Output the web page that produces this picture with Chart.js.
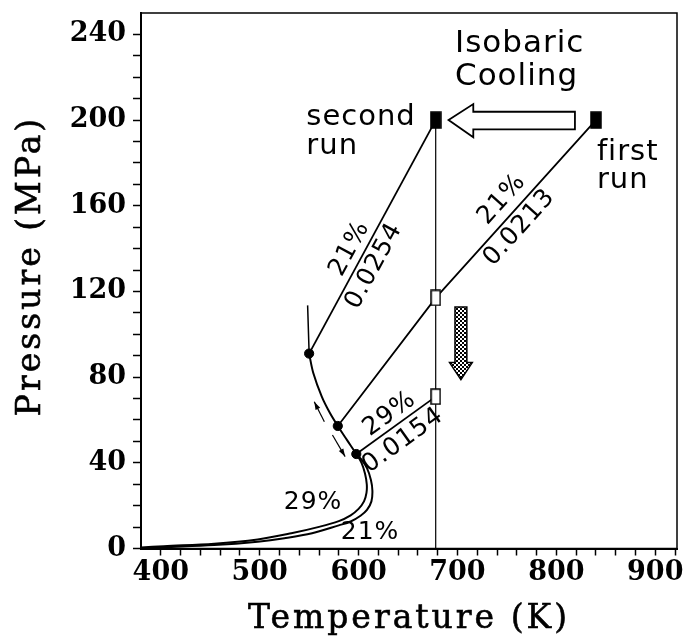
<!DOCTYPE html>
<html lang="en">
<head>
<meta charset="UTF-8">
<title>Isobaric Cooling</title>
<script src="https://cdn.jsdelivr.net/npm/chart.js"></script>
<style>
  body { margin: 0; background: #fff; }
  #grafico { display: block; }
</style>
</head>
<body>
<canvas id="grafico" width="683" height="636"></canvas>
<script>
// eixos
const ticksX = [400, 420, 440, 460, 480, 500, 520, 540, 560, 580, 600, 620, 640, 660, 680, 700, 720, 740, 760, 780, 800, 820, 840, 860, 880, 900, 920];
const rotulosX = [400, 500, 600, 700, 800, 900];
const ticksY = [0, 10, 20, 30, 40, 50, 60, 70, 80, 90, 100, 110, 120, 130, 140, 150, 160, 170, 180, 190, 200, 210, 220, 230, 240];
const rotulosY = [0, 40, 80, 120, 160, 200, 240];

// curva de equilibrio: trecho comum + ramo 29%
const curva29T = [550, 554.3, 562.8, 571.2, 579, 588.2, 597.7, 603, 606.5, 608.3, 608, 605.5, 600, 592, 580, 560, 532, 498, 454, 403, 380];
const curva29P = [91, 81.8, 70.9, 63.1, 57.2, 50.7, 44.1, 40, 35, 30, 26, 22, 18.5, 15.5, 12.8, 10.1, 7.1, 4.2, 2.2, 1.1, 0.5];
// ramo 21%
const curva21T = [597.7, 603, 608.5, 612.5, 614, 613, 608.5, 602, 592, 580, 553, 525, 498, 454, 403, 380];
const curva21P = [44.1, 41.5, 37.5, 32, 27, 22, 18, 15.3, 12.6, 10.8, 7.1, 4.8, 3.2, 1.6, 0.6, 0.1];

// corridas
const segundaT = [550, 678];
const segundaP = [91, 200];
const primeiraT = [579, 678, 840];
const primeiraP = [57.2, 117, 200];
const linha29T = [597.7, 678];
const linha29P = [44.1, 70.9];
const isotermaT = [678, 678];
const isotermaP = [0, 200];
const marcaT = [548.5, 550];
const marcaP = [113.5, 91];

// marcadores
const circulosT = [550, 579, 597.7];
const circulosP = [91, 57.2, 44.1];
const cheiosT = [678, 840];
const cheiosP = [200, 200];
const abertosT = [678, 678];
const abertosP = [117, 70.9];

function pares(xs, ys) {
    return xs.map(function (v, i) { return { x: v, y: ys[i] }; });
}

function retangulo(w, h, cheio) {
    const c = document.createElement('canvas');
    c.width = w + 2;
    c.height = h + 2;
    const g = c.getContext('2d');
    g.fillStyle = cheio ? '#000' : '#fff';
    g.fillRect(1, 1, w, h);
    g.strokeStyle = '#000';
    g.lineWidth = 1.5;
    g.strokeRect(1, 1, w, h);
    return c;
}

// textos e setas (coordenadas em unidades dos eixos)
const sans = '"DejaVu Sans", sans-serif';
const notas = [
    { t: 'Isobaric', x: 697.5, y: 232, tam: 31 },
    { t: 'Cooling', x: 697.5, y: 216.6, tam: 31 },
    { t: 'second', x: 547.2, y: 197.6, tam: 29 },
    { t: 'run', x: 547.2, y: 184.3, tam: 29 },
    { t: 'first', x: 841, y: 181.4, tam: 29 },
    { t: 'run', x: 841, y: 168.2, tam: 29 },
    { t: '29%', x: 554, y: 21.7, tam: 25, centro: true },
    { t: '21%', x: 611.6, y: 7.5, tam: 25, centro: true },
    { t: '21%', x: 591, y: 140, tam: 25, centro: true, ao: [segundaT, segundaP, 0] },
    { t: '0.0254', x: 615.7, y: 131.9, tam: 25, centro: true, ao: [segundaT, segundaP, 0] },
    { t: '21%', x: 745, y: 163, tam: 25, centro: true, ao: [primeiraT, primeiraP, 1] },
    { t: '0.0213', x: 762.7, y: 149.8, tam: 25, centro: true, ao: [primeiraT, primeiraP, 1] },
    { t: '29%', x: 631.4, y: 62.8, tam: 25, centro: true, ao: [linha29T, linha29P, 0] },
    { t: '0.0154', x: 645, y: 50.4, tam: 25, centro: true, ao: [linha29T, linha29P, 0] }
];
const setaVazada = [[691, 200], [716, 207.5], [716, 203.9], [818.8, 203.9], [818.8, 195.7], [716, 195.7], [716, 192]];
const setaPontilhada = [[697.5, 112.7], [709.5, 112.7], [709.5, 86.8], [715, 86.8], [703.5, 78.8], [692, 86.8], [697.5, 86.8]];
const setinhas = [[565.4, 59.2, 555.2, 68.5], [573.6, 53, 586.4, 42.9]];

const notasPlugin = {
    id: 'notas',
    afterDraw(chart) {
        const ctx = chart.ctx;
        const sx = chart.scales.x, sy = chart.scales.y;
        const a = chart.chartArea;
        const px = function (v) { return sx.getPixelForValue(v); };
        const py = function (v) { return sy.getPixelForValue(v); };

        // moldura
        ctx.save();
        ctx.strokeStyle = '#000';
        ctx.lineWidth = 1.5;
        ctx.strokeRect(a.left, a.top, a.right - a.left, a.bottom - a.top);
        ctx.restore();

        // seta vazada
        ctx.save();
        ctx.beginPath();
        setaVazada.forEach(function (p, i) {
            if (i === 0) ctx.moveTo(px(p[0]), py(p[1])); else ctx.lineTo(px(p[0]), py(p[1]));
        });
        ctx.closePath();
        ctx.fillStyle = '#fff';
        ctx.fill();
        ctx.lineWidth = 1.8;
        ctx.strokeStyle = '#000';
        ctx.stroke();

        // seta pontilhada
        const pad = document.createElement('canvas');
        pad.width = 4; pad.height = 4;
        const pg = pad.getContext('2d');
        pg.fillStyle = '#fff'; pg.fillRect(0, 0, 4, 4);
        pg.fillStyle = '#000'; pg.fillRect(0, 0, 2, 2); pg.fillRect(2, 2, 2, 2);
        ctx.beginPath();
        setaPontilhada.forEach(function (p, i) {
            if (i === 0) ctx.moveTo(px(p[0]), py(p[1])); else ctx.lineTo(px(p[0]), py(p[1]));
        });
        ctx.closePath();
        ctx.fillStyle = ctx.createPattern(pad, 'repeat');
        ctx.fill();
        ctx.lineWidth = 1.5;
        ctx.stroke();

        // setinhas ao longo da curva
        setinhas.forEach(function (s) {
            const x0 = px(s[0]), y0 = py(s[1]), x1 = px(s[2]), y1 = py(s[3]);
            const ang = Math.atan2(y1 - y0, x1 - x0);
            ctx.beginPath();
            ctx.moveTo(x0, y0);
            ctx.lineTo(x1, y1);
            ctx.lineWidth = 1.2;
            ctx.stroke();
            ctx.beginPath();
            ctx.moveTo(x1, y1);
            ctx.lineTo(x1 - 8 * Math.cos(ang) + 2.6 * Math.sin(ang), y1 - 8 * Math.sin(ang) - 2.6 * Math.cos(ang));
            ctx.lineTo(x1 - 8 * Math.cos(ang) - 2.6 * Math.sin(ang), y1 - 8 * Math.sin(ang) + 2.6 * Math.cos(ang));
            ctx.closePath();
            ctx.fillStyle = '#000';
            ctx.fill();
        });

        // textos
        ctx.fillStyle = '#000';
        notas.forEach(function (n) {
            ctx.save();
            ctx.font = n.tam + 'px ' + sans;
            if ('letterSpacing' in ctx) ctx.letterSpacing = '1px';
            ctx.translate(px(n.x), py(n.y));
            if (n.ao) {
                const xs = n.ao[0], ys = n.ao[1], k = n.ao[2];
                ctx.rotate(Math.atan2(py(ys[k + 1]) - py(ys[k]), px(xs[k + 1]) - px(xs[k])));
            }
            ctx.textAlign = n.centro ? 'center' : 'left';
            ctx.textBaseline = n.centro ? 'middle' : 'alphabetic';
            ctx.fillText(n.t, 0, 0);
            ctx.restore();
        });

        // titulos dos eixos
        ctx.save();
        ctx.font = '33px "DejaVu Serif", serif';
        if ('letterSpacing' in ctx) ctx.letterSpacing = '3px';
        ctx.textAlign = 'center';
        ctx.textBaseline = 'alphabetic';
        ctx.strokeStyle = '#000';
        ctx.lineWidth = 0.6;
        ctx.fillText('Temperature (K)', (a.left + a.right) / 2, 628);
        ctx.strokeText('Temperature (K)', (a.left + a.right) / 2, 628);
        ctx.translate(31, 266);
        ctx.rotate(-Math.PI / 2);
        ctx.textBaseline = 'middle';
        ctx.fillText('Pressure (MPa)', 0, 0);
        ctx.strokeText('Pressure (MPa)', 0, 0);
        ctx.restore();
    }
};

const linha = function (xs, ys, largura, extra) {
    return Object.assign({
        data: pares(xs, ys),
        showLine: true,
        borderColor: '#000',
        borderWidth: largura,
        pointRadius: 0,
        order: 2
    }, extra || {});
};

const fonteTicks = { family: '"DejaVu Serif", serif', size: 27, weight: 'bold' };

new Chart(document.getElementById('grafico'), {
    type: 'scatter',
    data: {
        datasets: [
            { data: pares(circulosT, circulosP), pointRadius: 4.6, pointBackgroundColor: '#000', pointBorderColor: '#000', showLine: false, order: 0 },
            { data: pares(cheiosT, cheiosP), pointStyle: retangulo(10, 16, true), pointRadius: 5, showLine: false, order: 0 },
            { data: pares(abertosT, abertosP), pointStyle: retangulo(9, 15, false), pointRadius: 5, showLine: false, order: 0 },
            linha(curva29T, curva29P, 2, { tension: 0.35 }),
            linha(curva21T, curva21P, 2, { tension: 0.35 }),
            linha(segundaT, segundaP, 1.8),
            linha(primeiraT, primeiraP, 1.8),
            linha(linha29T, linha29P, 1.8),
            linha(isotermaT, isotermaP, 1.2),
            linha(marcaT, marcaP, 1.5)
        ]
    },
    options: {
        responsive: false,
        animation: false,
        layout: { padding: { top: 13, right: 5, left: 0, bottom: 0 } },
        plugins: { legend: { display: false }, tooltip: { enabled: false } },
        scales: {
            x: {
                type: 'linear',
                min: 380,
                max: 922,
                afterFit: function (s) { s.height = 87.5; s.paddingLeft = 0; s.paddingRight = 0; },
                afterBuildTicks: function (s) { s.ticks = ticksX.map(function (v) { return { value: v }; }); },
                ticks: {
                    autoSkip: false,
                    maxRotation: 0,
                    padding: 1,
                    color: '#000',
                    font: fonteTicks,
                    callback: function (v) { return rotulosX.includes(v) ? String(v) : ''; }
                },
                grid: { drawOnChartArea: false, tickLength: 7, tickWidth: 1.5, tickColor: '#000' },
                border: { color: '#000', width: 2 }
            },
            y: {
                type: 'linear',
                min: 0,
                max: 250,
                afterFit: function (s) { s.width = 141; s.paddingTop = 0; s.paddingBottom = 0; },
                afterBuildTicks: function (s) { s.ticks = ticksY.map(function (v) { return { value: v }; }); },
                ticks: {
                    autoSkip: false,
                    padding: 7,
                    color: '#000',
                    font: fonteTicks,
                    callback: function (v) { return rotulosY.includes(v) ? String(v) : ''; }
                },
                grid: { drawOnChartArea: false, tickLength: 8, tickWidth: 1.5, tickColor: '#000' },
                border: { color: '#000', width: 2 }
            }
        }
    },
    plugins: [notasPlugin]
});
</script>
</body>
</html>
